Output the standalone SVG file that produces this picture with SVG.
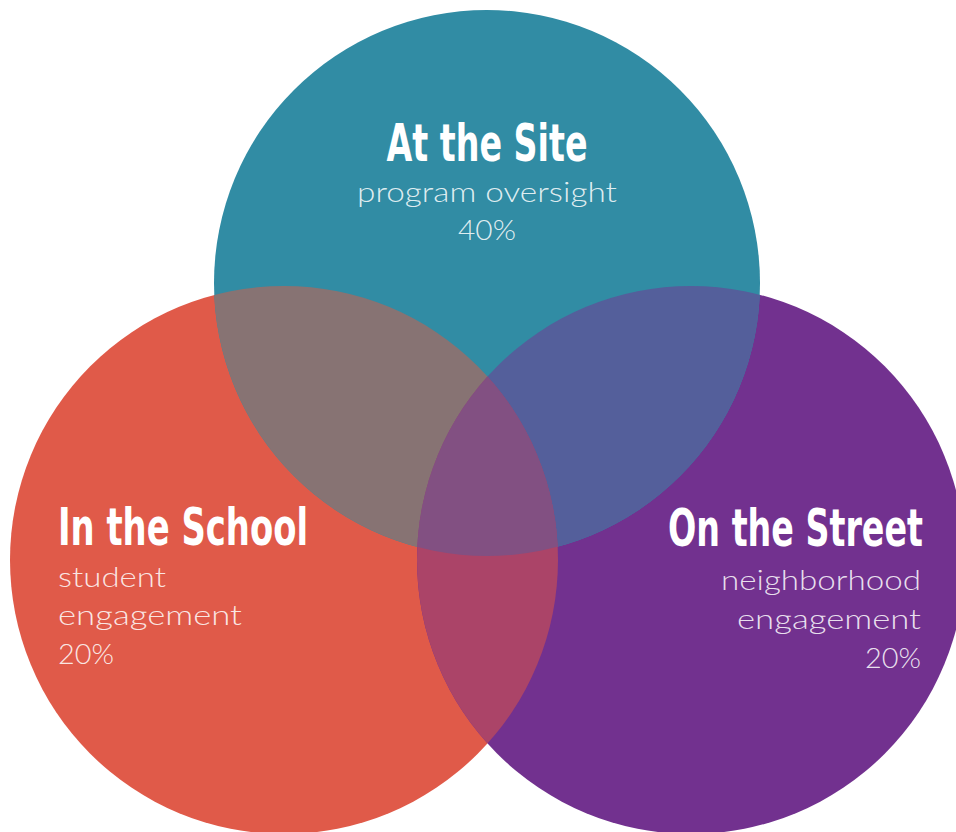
<svg xmlns="http://www.w3.org/2000/svg" width="956" height="832" viewBox="0 0 956 832">
<style>
.h{font-family:"Liberation Sans Narrow","DejaVu Sans Condensed","Liberation Sans",sans-serif;font-weight:bold;font-size:38px;fill:#ffffff;font-stretch:condensed}
.b{font-family:Lato,"Open Sans","Liberation Sans",sans-serif;font-weight:300;font-size:27px;fill:#ffffff;fill-opacity:0.86}
</style>
<defs>
<clipPath id="cL"><circle cx="284" cy="560" r="274"/></clipPath>
<clipPath id="cR"><circle cx="691" cy="560" r="274"/></clipPath>
</defs>
<rect width="956" height="832" fill="#ffffff"/>
<g id="node-school">
<circle cx="284" cy="560" r="274" fill="#E05A49"/>
</g>
<g id="node-street">
<circle cx="691" cy="560" r="274" fill="#72318F"/>
</g>
<g id="node-site">
<circle cx="487" cy="283" r="273" fill="#318CA4"/>
</g>
<g id="overlaps">
<circle cx="487" cy="283" r="273" fill="#877373" clip-path="url(#cL)"/>
<circle cx="487" cy="283" r="273" fill="#545F9B" clip-path="url(#cR)"/>
<circle cx="284" cy="560" r="274" fill="#AB4468" clip-path="url(#cR)"/>
<g clip-path="url(#cL)"><circle cx="487" cy="283" r="273" fill="#825082" clip-path="url(#cR)"/></g>
</g>
<g id="labels-site">
<text class="h" transform="translate(487,160.5) scale(1,1.37)" text-anchor="middle" textLength="201" lengthAdjust="spacingAndGlyphs">At the Site</text>
<text class="b" x="487" y="201.5" text-anchor="middle" textLength="260" lengthAdjust="spacingAndGlyphs">program oversight</text>
<text class="b" x="487" y="240" text-anchor="middle" textLength="58" lengthAdjust="spacingAndGlyphs">40%</text>
</g>
<g id="labels-school">
<text class="h" transform="translate(58,545) scale(1,1.37)" textLength="250" lengthAdjust="spacingAndGlyphs">In the School</text>
<text class="b" x="58" y="586.5" textLength="108" lengthAdjust="spacingAndGlyphs">student</text>
<text class="b" x="58" y="625" textLength="184" lengthAdjust="spacingAndGlyphs">engagement</text>
<text class="b" x="58" y="664" textLength="56" lengthAdjust="spacingAndGlyphs">20%</text>
</g>
<g id="labels-street">
<text class="h" transform="translate(923,546) scale(1,1.37)" text-anchor="end" textLength="255" lengthAdjust="spacingAndGlyphs">On the Street</text>
<text class="b" x="921" y="590" text-anchor="end" textLength="200" lengthAdjust="spacingAndGlyphs">neighborhood</text>
<text class="b" x="921" y="628.5" text-anchor="end" textLength="184" lengthAdjust="spacingAndGlyphs">engagement</text>
<text class="b" x="921" y="667.5" text-anchor="end" textLength="56" lengthAdjust="spacingAndGlyphs">20%</text>
</g>
</svg>
